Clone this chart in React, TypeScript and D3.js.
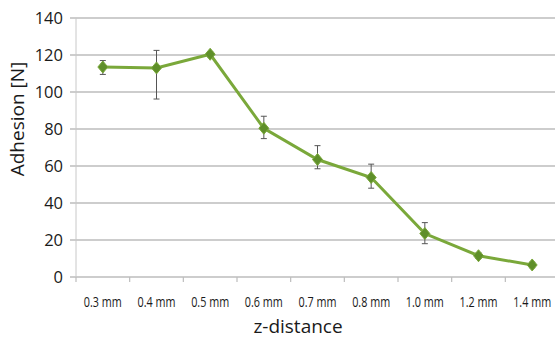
import React from "react";
import * as d3 from "d3";

const categories = ["0.3 mm", "0.4 mm", "0.5 mm", "0.6 mm", "0.7 mm", "0.8 mm", "1.0 mm", "1.2 mm", "1.4 mm"];
const adhesion = [113.5, 113, 120.4, 80.4, 63.5, 53.8, 23.5, 11.5, 6.5];
const errLow = [109.5, 96.2, 119, 74.8, 58.5, 48, 18, 10, 5];
const errHigh = [117, 122.5, 121.8, 86.9, 71, 61, 29.4, 13, 8];
const yTicks = [0, 20, 40, 60, 80, 100, 120, 140];

const W = 555, H = 340;
const left = 76, right = 559, top = 18, bottom = 277;

export default function App() {
  const x = d3.scaleBand().domain(categories).range([left, right]);
  const y = d3.scaleLinear().domain([0, 140]).range([bottom, top]);
  const cx = (c: string) => (x(c) as number) + x.bandwidth() / 2;
  const pts = categories.map((c, i) => [cx(c), y(adhesion[i])] as [number, number]);
  const line = d3.line()(pts) as string;
  const green = "#7aa83a";
  const dark = "#5f8f2a";
  const axisFont = "'Open Sans', sans-serif";
  return (
    <svg width={W} height={H} style={{ position: "absolute", left: 0, top: 0, background: "#fff" }}>
      {yTicks.map((t) => (
        <g key={t}>
          <line x1={left - 6} x2={W} y1={y(t)} y2={y(t)} stroke="#bdbdbd" strokeWidth={1.3} />
          <text x={63} y={y(t) + 6} textAnchor="end" fontFamily={axisFont} fontSize={16.5} fill="#1a1a1a">{t}</text>
        </g>
      ))}
      <line x1={left} x2={left} y1={top} y2={bottom} stroke="#c8c8c8" strokeWidth={1} />
      {categories.map((c, i) => (
        <g key={c}>
          <line x1={x(c) as number} x2={x(c) as number} y1={bottom} y2={bottom + 5} stroke="#bdbdbd" strokeWidth={1.2} />
          <text x={cx(c)} y={307} textAnchor="middle" fontFamily={axisFont} fontSize={15} fill="#1a1a1a"
            transform={`translate(${cx(c)},0) scale(0.72,1) translate(${-cx(c)},0)`}>{c}</text>
        </g>
      ))}
      <path d={line} fill="none" stroke={green} strokeWidth={3} />
      {categories.map((c, i) => (
        <g key={"e" + c} stroke="#555" strokeWidth={1}>
          <line x1={cx(c)} x2={cx(c)} y1={y(errLow[i])} y2={y(errHigh[i])} />
          <line x1={cx(c) - 3} x2={cx(c) + 3} y1={y(errLow[i])} y2={y(errLow[i])} />
          <line x1={cx(c) - 3} x2={cx(c) + 3} y1={y(errHigh[i])} y2={y(errHigh[i])} />
        </g>
      ))}
      {pts.map(([px, py], i) => (
        <path key={"m" + i} d={`M${px},${py - 6}L${px + 5},${py}L${px},${py + 6}L${px - 5},${py}Z`} fill={dark} stroke={green} strokeWidth={1} />
      ))}
      <text x={298} y={333} textAnchor="middle" fontFamily={axisFont} fontSize={19} fill="#1a1a1a">z-distance</text>
      <text transform={`translate(24,119) rotate(-90)`} textAnchor="middle" fontFamily={axisFont} fontSize={19} fill="#1a1a1a">Adhesion [N]</text>
    </svg>
  );
}
